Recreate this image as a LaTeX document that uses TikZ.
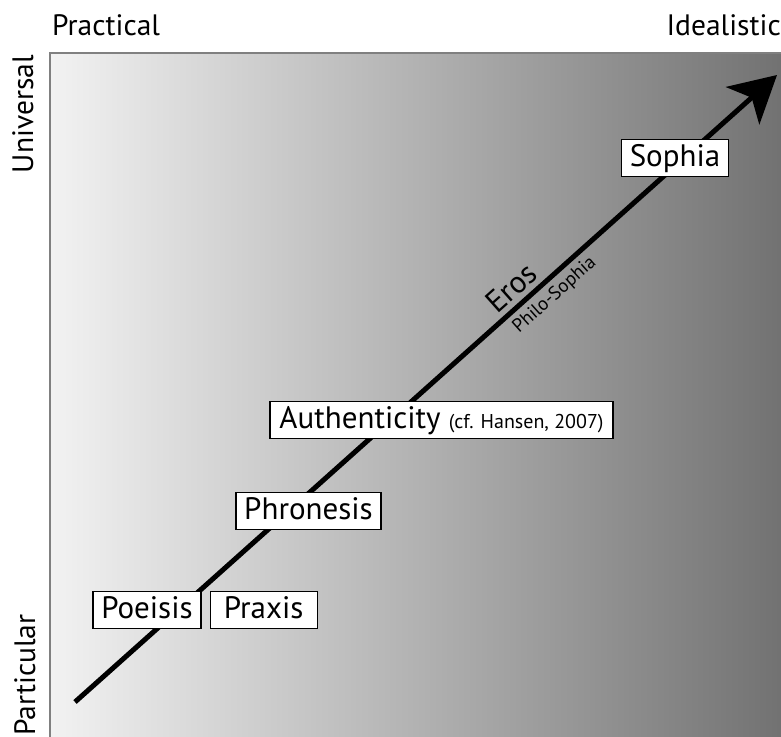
\documentclass[tikz,border=0pt]{standalone}
\usepackage{fontspec}
\setmainfont{PT Sans}
\usetikzlibrary{arrows.meta,positioning}

\begin{document}
\begin{tikzpicture}[x=1pt,y=-1pt,
  stage/.style={draw=black,line width=1.2pt,fill=white,inner xsep=8pt,inner ysep=0pt,
    minimum height=37pt,text height=22pt,text depth=6pt,font=\fontsize{31}{36}\selectfont},
  axislabel/.style={inner sep=0pt,font=\fontsize{29.5}{34}\selectfont}]
 \useasboundingbox (0,0) rectangle (781,736);
 \clip (0,0) rectangle (781,736);
 \shade[left color=black!5,right color=black!56] (50,53) rectangle (790,745);
 \draw[black!50,line width=2pt] (790,53) -- (50,53) -- (50,745);
 \node[axislabel,anchor=base west] (practical) at (52,35) {Practical};
 \node[axislabel,anchor=base east] (idealistic) at (781,35) {Idealistic};
 \node[axislabel,rotate=90,anchor=base east] (universal) at (33,55) {Universal};
 \node[axislabel,rotate=90,anchor=base west] (particular) at (35,736) {Particular};
 \coordinate (start) at (75,702);
 \coordinate (tip) at (777,75);
 \draw[line width=5pt,-{Stealth[length=46pt,width=50pt,inset=12pt]}] (start) -- (tip)
  node[pos=0.639,sloped,above=5pt,inner sep=0pt,font=\fontsize{31}{36}\selectfont] (eros) {Eros}
  node[pos=0.668,sloped,below=5pt,inner sep=0pt,font=\fontsize{19}{22}\selectfont] (philo) {Philo-Sophia};
 \node[stage,minimum width=106pt] (sophia) at (675,158) {Sophia};
 \node[stage,minimum width=343pt] (authenticity) at (441.5,420) {Authenticity {\fontsize{20}{24}\selectfont (cf. Hansen, 2007)}};
 \node[stage,minimum width=145pt] (phronesis) at (308.5,511) {Phronesis};
 \node[stage,minimum width=108pt] (poeisis) at (147,610) {Poeisis};
 \node[stage,minimum width=107pt,right=8pt of poeisis] (praxis) {Praxis};
\end{tikzpicture}
\end{document}
